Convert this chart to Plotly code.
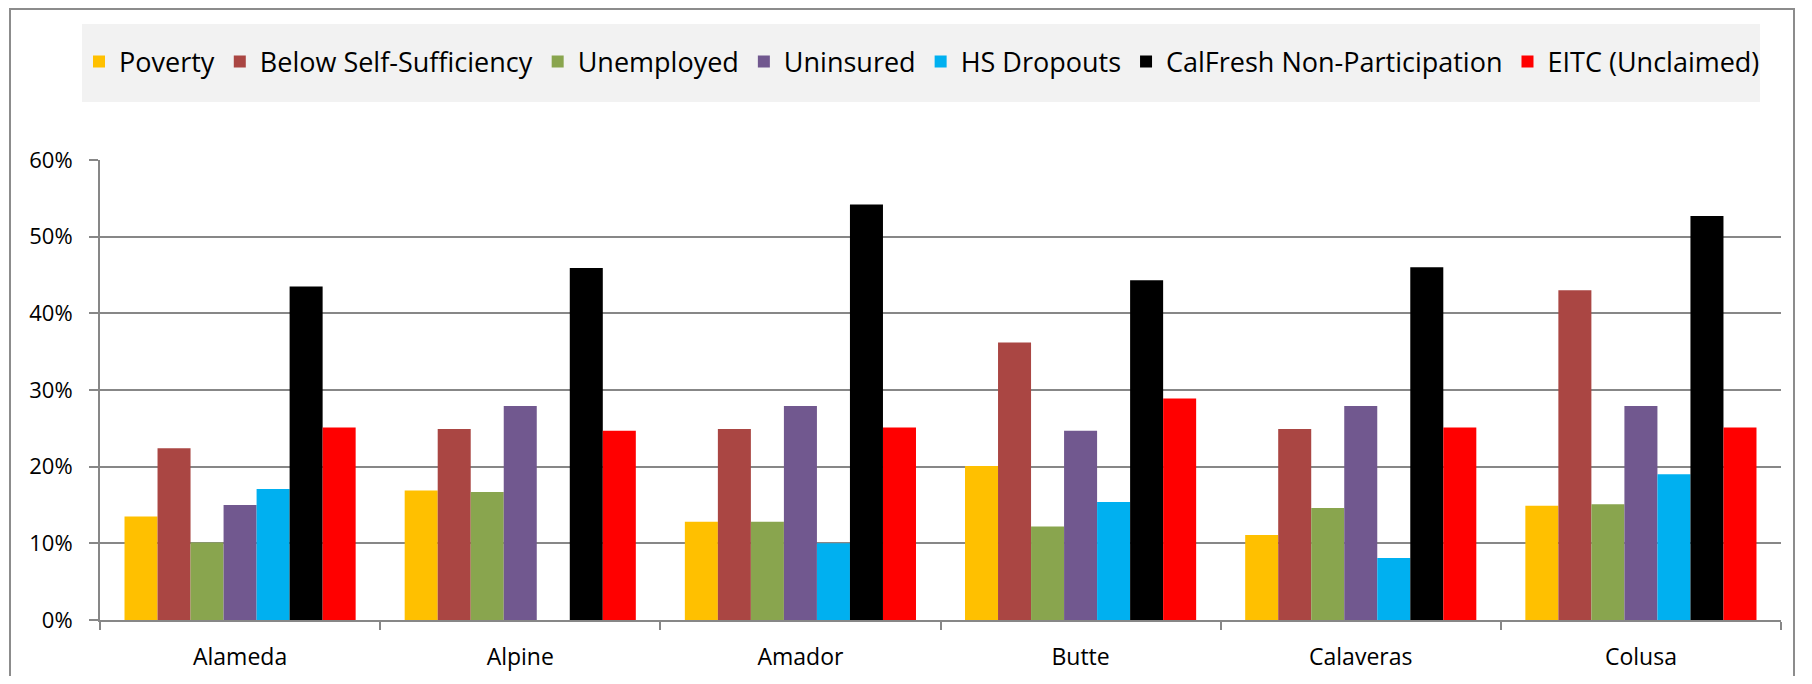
import plotly.graph_objects as go

# page has an 8px body margin, so the figure is drawn 8px in from the corner
OFF = 8
W, H = 1812 - 2 * OFF, 684 - 2 * OFF
L, R, T, B = 100 - OFF, 1812 - OFF - 1781, 160 - OFF, 684 - OFF - 620

counties = ["Alameda", "Alpine", "Amador", "Butte", "Calaveras", "Colusa"]

poverty = [0.135, 0.169, 0.128, 0.201, 0.111, 0.149]
below_self_sufficiency = [0.224, 0.249, 0.249, 0.362, 0.249, 0.430]
unemployed = [0.101, 0.167, 0.128, 0.122, 0.146, 0.151]
uninsured = [0.150, 0.279, 0.279, 0.247, 0.279, 0.279]
hs_dropouts = [0.171, None, 0.100, 0.154, 0.081, 0.190]
calfresh_nonpart = [0.435, 0.459, 0.542, 0.443, 0.460, 0.527]
eitc_unclaimed = [0.251, 0.247, 0.251, 0.289, 0.251, 0.251]

series = [
    ("Poverty", poverty, "#FFC000"),
    ("Below Self-Sufficiency", below_self_sufficiency, "#AA4643"),
    ("Unemployed", unemployed, "#89A54E"),
    ("Uninsured", uninsured, "#71588F"),
    ("HS Dropouts", hs_dropouts, "#00B0F0"),
    ("CalFresh Non-Participation", calfresh_nonpart, "#000000"),
    ("EITC (Unclaimed)", eitc_unclaimed, "#FF0000"),
]

GRID = "#878787"
FONT = "Open Sans"


# page pixel -> paper coordinate
def px_x(p):
    return (p - OFF - L) / (W - L - R)


def px_y(p):
    return (H - B - (p - OFF)) / (H - T - B)


def main():
    fig = go.Figure()
    for name, vals, color in series:
        fig.add_trace(go.Bar(x=counties, y=vals, name=name,
                             marker=dict(color=color, line=dict(width=0))))

    # outer chart frame
    fig.add_shape(type="rect", xref="paper", yref="paper",
                  x0=px_x(10), x1=px_x(1794), y0=px_y(720), y1=px_y(9),
                  line=dict(color="#8C8C8C", width=2), fillcolor="rgba(0,0,0,0)",
                  layer="below")
    # legend background
    fig.add_shape(type="rect", xref="paper", yref="paper",
                  x0=px_x(82), x1=px_x(1760), y0=px_y(102), y1=px_y(24),
                  line=dict(width=0), fillcolor="#F2F2F2", layer="below")

    fig.update_layout(
        width=W, height=H,
        margin=dict(l=L, r=R, t=T, b=B),
        barmode="group", bargap=0.175, bargroupgap=0,
        plot_bgcolor="white", paper_bgcolor="white",
        font=dict(family=FONT, color="#000000"),
        showlegend=True,
        legend=dict(orientation="h", x=px_x(79), xanchor="left",
                    y=px_y(62), yanchor="middle",
                    bgcolor="rgba(0,0,0,0)", font=dict(size=27, family=FONT),
                    itemclick=False, traceorder="normal"),
    )
    fig.update_yaxes(range=[0, 0.6], dtick=0.1, tickformat=".0%",
                     showgrid=True, gridcolor=GRID, gridwidth=2,
                     showline=True, linecolor=GRID, linewidth=2,
                     ticks="outside", ticklen=9, tickcolor=GRID, tickwidth=2,
                     ticklabelstandoff=12, tickfont=dict(size=22, family=FONT),
                     zeroline=False, automargin=False)
    fig.update_xaxes(showline=True, linecolor=GRID, linewidth=2,
                     ticks="outside", tickson="boundaries", ticklen=8,
                     tickcolor=GRID, tickwidth=2, ticklabelstandoff=15,
                     tickfont=dict(size=23, family=FONT), automargin=False)
    fig.write_html("out.html")


if __name__ == "__main__":
    main()
